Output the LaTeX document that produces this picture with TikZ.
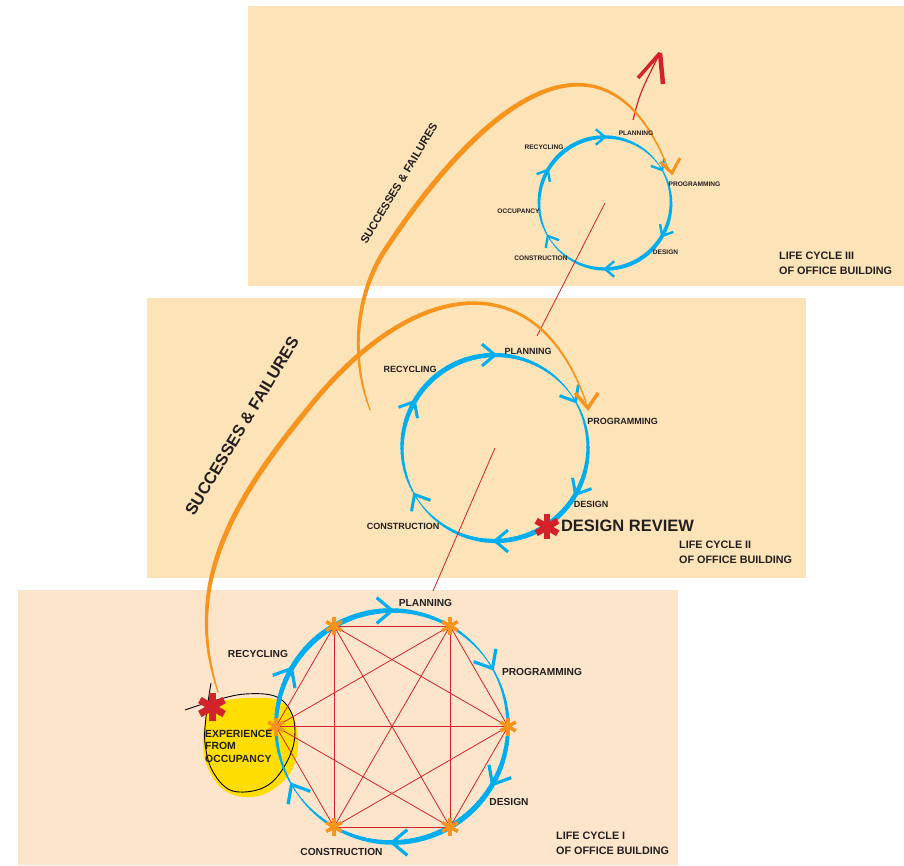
\documentclass[tikz,border=0pt]{standalone}
\usepackage{fontspec}
\setmainfont{Liberation Sans}
\usetikzlibrary{positioning}

\definecolor{panelsand}{HTML}{FDE3B8}
\definecolor{panelpeach}{HTML}{FDE5CC}
\definecolor{cyclecyan}{HTML}{00AEEF}
\definecolor{flameorange}{HTML}{F7941D}
\definecolor{alertred}{HTML}{D2232A}
\definecolor{blobyellow}{HTML}{FFDD00}
\definecolor{inkgray}{HTML}{231F20}

% ring with tapered stroke and six chevrons: centre, radius, thin, thick, arm, arm width
\newcommand{\ringcycle}[6]{%
	\begin{scope}[shift={(#1)},cyclecyan]
		\foreach \a in {0,3,...,357}{
			\pgfmathsetmacro{\w}{#3+(#4-#3)*abs(sin(\a+1.5-35))}
			\draw[line width=\w pt] (\a:#2) arc[start angle=\a, end angle=\a+3.6, radius=#2];
		}
		\foreach \a in {90,30,-30,-90,-150,150}
			\draw[line width=#6pt,line join=miter] (\a:#2) ++(\a+130:#5) -- (\a:#2) -- ++(\a+50:#5);
	\end{scope}}

% six-armed asterisk: at, colour, arm, width
\newcommand{\flake}[4]{%
	\begin{scope}[shift={(#1)}]
		\foreach \t in {90,30,-30}
			\draw[#2,line width=#4pt] (\t:#3) -- (\t+180:#3);
	\end{scope}}

\begin{document}
\begin{tikzpicture}[x=1pt,y=1pt,
	lbl/.style={text=inkgray,inner sep=0pt,font=\bfseries\fontsize{#1}{#1}\selectfont},
	tag/.style={text=inkgray,inner sep=0pt,anchor=west,align=left,font=\bfseries\fontsize{10.8}{15}\selectfont},
	swoosh/.style={flameorange,line cap=round},
	thread/.style={alertred,line width=0.8pt}
]
	\useasboundingbox (0,0) rectangle (904,865);

	% panels
	\fill[panelsand]  (248,579) rectangle (904,859);
	\fill[panelsand]  (147,287) rectangle (806,567);
	\fill[panelpeach] (18,0)    rectangle (678,275);

	\coordinate (c1) at (392,138.5);
	\coordinate (c2) at (495,417);
	\coordinate (c3) at (605,662);

	% experience from occupancy
	\fill[blobyellow] plot[smooth cycle,tension=0.7] coordinates
		{(205,140) (212,160) (250,167) (283,162) (297,135) (294,100) (275,77) (250,68) (224,75) (208,97) (203,120)};
	\draw[black,line width=0.9pt] plot[smooth,tension=0.6] coordinates
		{(185,155) (213,164) (245,171) (277,168) (293,148) (293,118) (277,88) (257,75) (230,75) (212,95) (205,122) (206,148) (211,182)};

	% life cycle I
	\ringcycle{c1}{116}{0.9}{5.4}{20}{3.2}
	\begin{scope}[shift={(c1)}]
		\foreach \i in {1,...,6}
			\coordinate (v\i) at (60*\i-60:116);
	\end{scope}
	\foreach \i in {1,...,5}{
		\pgfmathtruncatemacro{\k}{\i+1}
		\foreach \j in {\k,...,6}
			\draw[alertred,line width=0.8pt] (v\i) -- (v\j);
	}
	\foreach \i in {1,...,6}
		\flake{v\i}{flameorange}{9}{3.6};
	\flake{212,158}{alertred}{14}{7}

	% life cycle II and III
	\ringcycle{c2}{93}{0.8}{5}{17}{3}
	\flake{547,338}{alertred}{12.5}{6.5}
	\ringcycle{c3}{66}{0.7}{4}{12}{2.4}

	% red thread
	\coordinate (t1) at (433,274);
	\coordinate (t2) at (537,529);
	\coordinate (t3) at (633,745);
	\coordinate (tip) at (660,812);
	\draw[thread] (t1) -- (c2);
	\draw[thread] (t2) -- (c3);
	\draw[thread,line width=1.2pt] (t3) .. controls (640,772) .. (tip);
	\draw[alertred,line width=3.5pt] (638,787) -- (tip);
	\draw[alertred,line width=4.5pt] (tip) -- (663,781);

	% successes and failures, lower swoosh
	\path (218,173) .. controls (185,275) and (225,355) .. (307,455)
		\foreach \s in {0,...,40}{coordinate[pos=\s/40] (fa\s)};
	\path (307,455) .. controls (412,588) and (536.5,604) .. (586,463)
		\foreach \s in {0,...,40}{coordinate[pos=\s/40] (fb\s)};
	\foreach \s in {0,...,39}{
		\pgfmathtruncatemacro{\n}{\s+1}
		\pgfmathsetmacro{\w}{1.3+3.8*sin(180*(\s/80)^0.8)}
		\draw[swoosh,line width=\w pt] (fa\s) -- (fa\n);
		\pgfmathsetmacro{\w}{1.3+3.8*sin(180*((\s+40)/80)^0.8)}
		\draw[swoosh,line width=\w pt] (fb\s) -- (fb\n);
	}
	\draw[flameorange,line width=3.5pt,line join=miter] (575,472) -- (588,457) -- (598,472);

	% successes and failures, upper swoosh
	\path (370,455) .. controls (349,511) and (357.5,573.5) .. (385,615)
		\foreach \s in {0,...,20}{coordinate[pos=\s/20] (ga\s)};
	\path (385,615) .. controls (495,781) and (608.8,845.8) .. (668,697)
		\foreach \s in {0,...,50}{coordinate[pos=\s/50] (gb\s)};
	\foreach \s in {0,...,19}{
		\pgfmathtruncatemacro{\n}{\s+1}
		\pgfmathsetmacro{\w}{1.3+3.8*sin(180*(\s/70)^0.8)^1.2}
		\draw[swoosh,line width=\w pt] (ga\s) -- (ga\n);
	}
	\foreach \s in {0,...,49}{
		\pgfmathtruncatemacro{\n}{\s+1}
		\pgfmathsetmacro{\w}{1.3+3.8*sin(180*((\s+20)/70)^0.8)^1.2}
		\draw[swoosh,line width=\w pt] (gb\s) -- (gb\n);
	}
	\draw[flameorange,line width=3pt,line join=miter] (660,703) -- (672,692) -- (680,707);

	% labels, cycle I
	\node[lbl=10.2] (plan1) at (425.5,262) {PLANNING};
	\node[lbl=10.2] (prog1) at (542,193)   {PROGRAMMING};
	\node[lbl=10.2] (des1)  at (509,63)    {DESIGN};
	\node[lbl=10.2] (cons1) at (341.5,13)  {CONSTRUCTION};
	\node[lbl=10.2] (recy1) at (258,211)   {RECYCLING};
	\node[tag,font=\bfseries\fontsize{10.4}{12.5}\selectfont] (occ1) at (205,119) {EXPERIENCE\\FROM\\OCCUPANCY};
	\node[tag] (life1) at (556,21.5) {LIFE CYCLE I\\OF OFFICE BUILDING};

	% labels, cycle II
	\node[lbl=9] (plan2) at (528,514)   {PLANNING};
	\node[lbl=9] (prog2) at (622.5,444) {PROGRAMMING};
	\node[lbl=9] (des2)  at (591,361)   {DESIGN};
	\node[lbl=9] (cons2) at (403,339)   {CONSTRUCTION};
	\node[lbl=9] (recy2) at (410,496)   {RECYCLING};
	\node[lbl=16.5] (review) at (627.5,339) {DESIGN REVIEW};
	\node[tag] (life2) at (679,312.5) {LIFE CYCLE II\\OF OFFICE BUILDING};

	% labels, cycle III
	\node[lbl=6.6] (plan3) at (636,732)   {PLANNING};
	\node[lbl=6.6] (prog3) at (694.5,681) {PROGRAMMING};
	\node[lbl=6.6] (des3)  at (665.5,613) {DESIGN};
	\node[lbl=6.6] (cons3) at (541,607)   {CONSTRUCTION};
	\node[lbl=6.6] (occ3)  at (518.5,654) {OCCUPANCY};
	\node[lbl=6.6] (recy3) at (544,718)   {RECYCLING};
	\node[tag] (life3) at (779,601.5) {LIFE CYCLE III\\OF OFFICE BUILDING};

	\node[lbl=16.5,rotate=59] (sf1) at (242,439)   {SUCCESSES \& FAILURES};
	\node[lbl=11.2,rotate=59] (sf2) at (399,681.5) {SUCCESSES \& FAILURES};
\end{tikzpicture}
\end{document}
